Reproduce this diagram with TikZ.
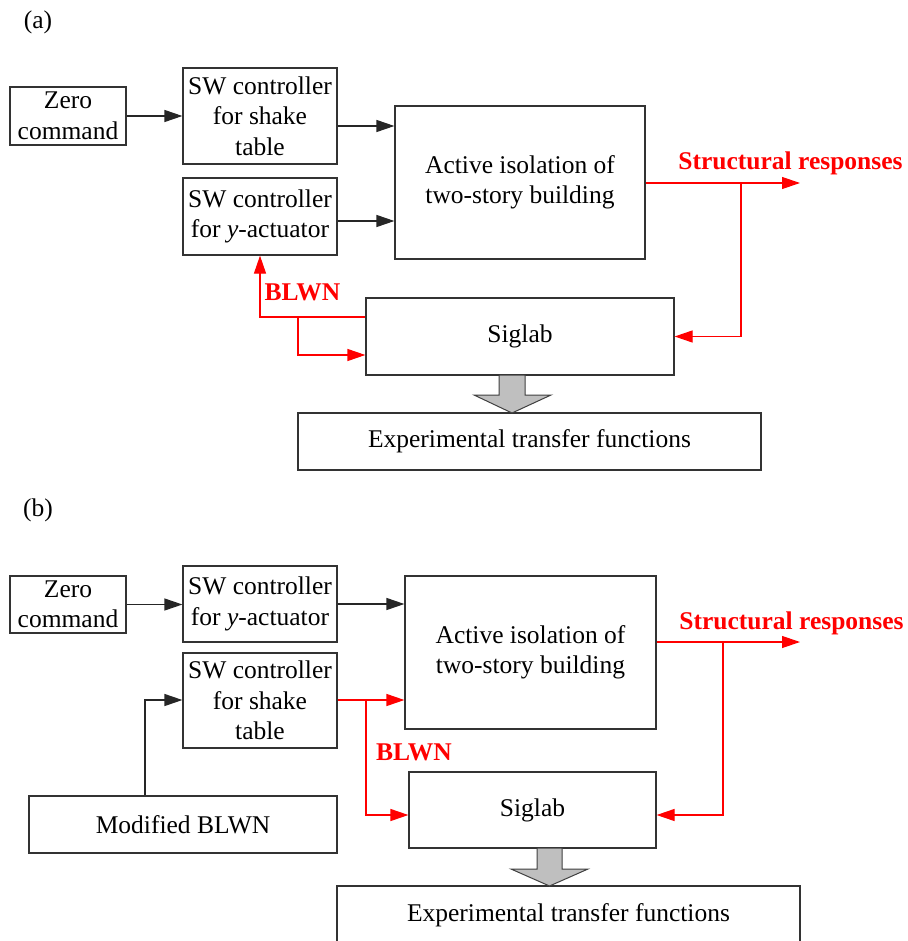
\documentclass[tikz,border=0pt]{standalone}
\usepackage{fontspec}
\setmainfont{Liberation Serif}
\newfontfamily\tnr{Liberation Serif}
\usetikzlibrary{arrows.meta}
\begin{document}
\begin{tikzpicture}[x=1pt,y=-1pt,
  every node/.style={font=\tnr\fontsize{25.5}{30.5}\selectfont},
  blk/.style={draw=black!80, line width=1.2pt, fill=white, inner sep=0pt, align=center},
  arr/.style={line width=1.2pt, draw=black!85, -{Triangle[length=18pt,width=12pt]}},
  rarr/.style={line width=1.2pt, draw=red, -{Triangle[length=18pt,width=12pt]}},
  lbl/.style={text=red, font=\tnr\fontsize{25.5}{30.5}\selectfont\bfseries, inner sep=0pt},
  bigarr/.style={fill=black!25, draw=black!75, line width=1pt}
]
\clip (0,0) rectangle (907,941);
\fill[white] (0,0) rectangle (907,941);

% ---------------- (a) ----------------
\node[inner sep=0pt] (la) at (38,22) {(a)};
\node[blk, minimum width=116pt, minimum height=58pt] (za) at (68,116) {Zero\\command};
\node[blk, minimum width=154pt, minimum height=96pt] (sa1) at (260,116) {SW controller\\for shake\\table};
\node[blk, minimum width=154pt, minimum height=77pt] (sa2) at (260,216.5) {SW controller\\for \textit{y}-actuator};
\node[blk, minimum width=250pt, minimum height=153pt] (aa) at (520,182.5) {Active isolation of\\two-story building};
\node[blk, minimum width=308pt, minimum height=77pt] (sla) at (520,336.5) {Siglab};
\node[blk, minimum width=463pt, minimum height=57pt] (ea) at (529.5,441.5) {Experimental transfer functions};
\coordinate (sra) at (800,183);
\node[lbl] (tsa) at (790.5,163) {Structural responses};
\node[lbl] (tba) at (302.5,292) {BLWN};

\draw[arr] (za.east) -- (sa1.west);
\draw[arr] (sa1.east |- 0,126) -- (aa.west |- 0,126);
\draw[arr] (sa2.east |- 0,221) -- (aa.west |- 0,221);
\draw[rarr] (aa.east |- sra) -- (sra);
\draw[rarr] (741,183) -- (741,336.5) -- (sla.east);
\draw[rarr] (sla.west |- 0,317) -- (260,317) -- (260,0 |- sa2.south);
\draw[rarr] (298,317) -- (298,355) -- (sla.west |- 0,355);
\draw[bigarr] (499,375) -- (525,375) -- (525,395) -- (551,395) -- (512,413) -- (474,395) -- (499,395) -- cycle;

% ---------------- (b) ----------------
\node[inner sep=0pt] (lb) at (38,510) {(b)};
\node[blk, minimum width=116pt, minimum height=57pt] (zb) at (68,604.5) {Zero\\command};
\node[blk, minimum width=154pt, minimum height=76pt] (sb1) at (260,604) {SW controller\\for \textit{y}-actuator};
\node[blk, minimum width=154pt, minimum height=95pt] (sb2) at (260,700.5) {SW controller\\for shake\\table};
\node[blk, minimum width=251pt, minimum height=153pt] (ab) at (530.5,652.5) {Active isolation of\\two-story building};
\node[blk, minimum width=308pt, minimum height=57pt] (mb) at (183,824.5) {Modified BLWN};
\node[blk, minimum width=247pt, minimum height=76pt] (slb) at (532.5,810) {Siglab};
\node[blk, minimum width=463pt, minimum height=58pt] (eb) at (568.5,915) {Experimental transfer functions};
\coordinate (srb) at (800,642);
\node[lbl] (tsb) at (791.5,623) {Structural responses};
\node[lbl] (tbb) at (414,752) {BLWN};

\draw[arr] (zb.east) -- (sb1.west |- zb.east);
\draw[arr] (sb1.east |- 0,604) -- (ab.west |- 0,604);
\draw[arr] (mb.north -| 145,0) -- (145,700) -- (sb2.west |- 0,700);
\draw[rarr] (sb2.east |- 0,700) -- (ab.west |- 0,700);
\draw[rarr] (366,700) -- (366,815) -- (slb.west |- 0,815);
\draw[rarr] (ab.east |- srb) -- (srb);
\draw[rarr] (723,642) -- (723,815) -- (slb.east |- 0,815);
\draw[bigarr] (537,848) -- (562,848) -- (562,869) -- (588,869) -- (549.5,886) -- (511,869) -- (537,869) -- cycle;
\end{tikzpicture}
\end{document}
